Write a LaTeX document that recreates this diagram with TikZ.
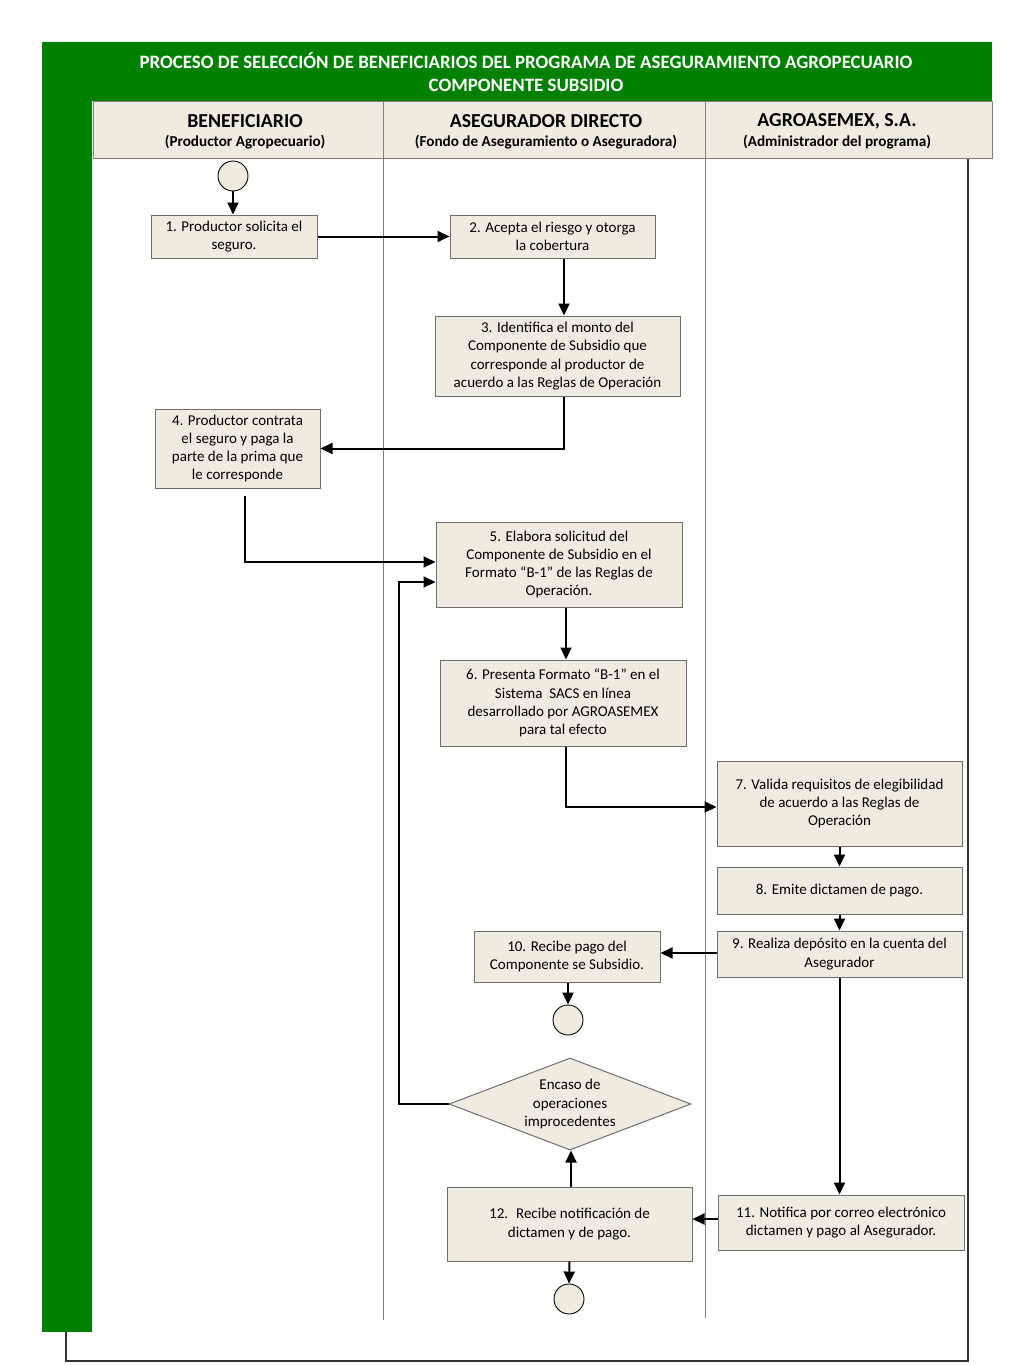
\documentclass[tikz,border=0pt]{standalone}
\usepackage{fontspec}
\setmainfont{Carlito}
\usetikzlibrary{shapes.geometric,arrows.meta}
\definecolor{vgreen}{RGB}{0,128,0}
\definecolor{tan}{RGB}{238,236,225}
\definecolor{bordergray}{RGB}{110,110,110}
\definecolor{lanegray}{RGB}{128,128,128}
\tikzset{
  box/.style={draw=bordergray, line width=1pt, fill=tan, inner sep=0pt, align=center,
    font=\fontsize{15}{18.3}\selectfont, text=black},
  endc/.style={circle, draw=black, line width=0.9pt, fill=tan, minimum size=30pt, inner sep=0pt},
  arr/.style={line width=2pt, -{Triangle[length=12pt,width=11pt]}},
  hdr/.style={font=\bfseries\fontsize{19.8}{22}\selectfont},
  sub/.style={font=\bfseries\fontsize{15.2}{17}\selectfont},
  lane/.style={draw=lanegray, line width=1pt}
}
\begin{document}
\begin{tikzpicture}[x=1pt,y=-1pt]
\useasboundingbox (0,0) rectangle (1024,1365);
% green frame
\fill[vgreen] (42,42) rectangle (992,101);
\fill[vgreen] (42,101) rectangle (92,1332);
\node[text=white, font=\bfseries\fontsize{18.9}{23}\selectfont, align=center] (title) at (526,72)
  {PROCESO DE SELECCIÓN DE BENEFICIARIOS DEL PROGRAMA DE ASEGURAMIENTO AGROPECUARIO\\COMPONENTE SUBSIDIO};
% outer border
\draw[draw=black!80, line width=1.3pt] (66,1332) -- (66,1361) -- (968,1361) -- (968,158);
% header row
\draw[fill=tan, draw=lanegray, line width=1pt] (93,101) rectangle (992,158);
% lanes
\draw[lane] (383,101) -- (383,1320);
\draw[lane] (705,101) -- (705,1318);
\node[hdr] (h1) at (245,121) {BENEFICIARIO};
\node[sub] (s1) at (245,142) {(Productor Agropecuario)};
\node[hdr] (h2) at (546,121) {ASEGURADOR DIRECTO};
\node[sub] (s2) at (546,142) {(Fondo de Aseguramiento o Aseguradora)};
\node[hdr] (h3) at (837,121) {AGROASEMEX, S.A.};
\node[sub] (s3) at (837,142) {(Administrador del programa)};
% nodes
\node[endc] (c1) at (233,176) {};
\node[box, minimum width=166pt, minimum height=43pt] (b1) at (234,236.5) {1. Productor solicita el\\seguro.};
\node[box, minimum width=205pt, minimum height=43pt] (b2) at (552.5,236.5) {2. Acepta el riesgo y otorga\\la cobertura};
\node[box, minimum width=245pt, minimum height=80pt] (b3) at (557.5,356) {3. Identifica el monto del\\Componente de Subsidio que\\corresponde al productor de\\acuerdo a las Reglas de Operación};
\node[box, minimum width=165pt, minimum height=79pt] (b4) at (237.5,448.5) {4. Productor contrata\\el seguro y paga la\\parte de la prima que\\le corresponde};
\node[box, minimum width=246pt, minimum height=85pt] (b5) at (559,564.5) {5. Elabora solicitud del\\Componente de Subsidio en el\\Formato “B-1” de las Reglas de\\Operación.};
\node[box, minimum width=246pt, minimum height=86pt] (b6) at (563,703) {6. Presenta Formato “B-1” en el\\Sistema~ SACS en línea\\desarrollado por AGROASEMEX\\para tal efecto};
\node[box, minimum width=245pt, minimum height=85pt] (b7) at (839.5,803.5) {7. Valida requisitos de elegibilidad\\de acuerdo a las Reglas de\\Operación};
\node[box, minimum width=245pt, minimum height=47pt] (b8) at (839.5,890.5) {8. Emite dictamen de pago.};
\node[box, minimum width=245pt, minimum height=46pt] (b9) at (839.5,954) {9. Realiza depósito en la cuenta del\\Asegurador};
\node[box, minimum width=186pt, minimum height=51pt] (b10) at (567,956.5) {10. Recibe pago del\\Componente se Subsidio.};
\node[endc] (c2) at (568,1020) {};
\node[box, diamond, aspect=2.63, minimum width=242pt, minimum height=92pt] (d) at (570,1104) {Encaso de\\operaciones\\improcedentes};
\node[box, minimum width=246pt, minimum height=55pt] (b11) at (841,1222.5) {11. Notifica por correo electrónico\\dictamen y pago al Asegurador.};
\node[box, minimum width=245pt, minimum height=74pt] (b12) at (569.5,1224) {12.~ Recibe notificación de\\dictamen y de pago.};
\node[endc] (c3) at (569,1299) {};
% connectors
\draw[arr] (c1) -- (c1 |- b1.north);
\draw[arr] (b1.east) -- (b2.west);
\draw[arr] ([xshift=11.5pt]b2.south) -- ([xshift=11.5pt]b2.south |- b3.north);
\draw[arr] ([xshift=6.5pt]b3.south) |- (b4.east);
\draw[arr] ([xshift=7.5pt,yshift=-7pt]b4.south) |- ([yshift=2.5pt]b5.west);
\coordinate (ret) at (399,1104);
\draw[arr] (d.west) -- (ret) |- ([yshift=-17.5pt]b5.west);
\draw[arr] ([xshift=7pt]b5.south) -- ([xshift=7pt]b5.south |- b6.north);
\draw[arr] ([xshift=3pt]b6.south) |- ([yshift=-3.5pt]b7.west);
\draw[arr] (b7.south) -- (b8.north);
\draw[arr] (b8.south) -- (b9.north);
\draw[arr] ([yshift=1pt]b9.west) -- ([yshift=1pt]b9.west -| b10.east);
\draw[arr] ([xshift=1pt]b10.south) -- (c2.north);
\draw[arr] (b9.south) -- (b9.south |- b11.north);
\draw[arr] ([yshift=3.5pt]b11.west) -- ([yshift=3.5pt]b11.west -| b12.east);
\draw[arr] ([xshift=1.5pt]b12.north) -- ([xshift=1.5pt]b12.north |- d.south);
\draw[arr] (b12.south) -- (c3.north);
\end{tikzpicture}
\end{document}
